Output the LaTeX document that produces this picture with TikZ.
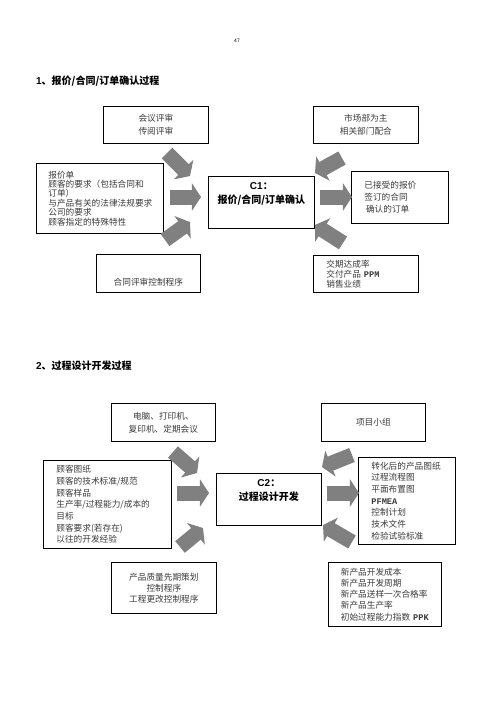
\documentclass[tikz,border=0pt]{standalone}
\usepackage{fontspec}
\setmainfont{Noto Sans CJK SC}
\newfontfamily\latin{Liberation Sans}
\newfontfamily\mono{Liberation Mono}
\usetikzlibrary{arrows.meta}
\definecolor{blkgray}{HTML}{808080}
\definecolor{txtgray}{HTML}{3A3A3A}

\begin{document}
\begin{tikzpicture}[
    x=1.2pt, y=-1.2pt,
    box/.style={rectangle, draw=black, line width=0.9pt, anchor=north west, inner sep=0pt, align=center, text=txtgray, font=\fontsize{10.4}{14}\selectfont},
    lbox/.style={box, align=left},
    main/.style={box, text=black, text depth=22pt, font=\fontsize{12}{17}\selectfont\bfseries},
    blk/.style={line width=18pt, draw=blkgray, -{Triangle[width=33pt,length=11pt]}},
    head/.style={anchor=west, inner sep=0pt, font=\fontsize{12}{14}\selectfont\bfseries}
]
\useasboundingbox (0,0) rectangle (496,702);
\node[inner sep=0pt, text=gray!60, font=\fontsize{5}{6}\selectfont] (dot) at (36,42) {.};
\node[inner sep=0pt, font=\fontsize{6}{7}\selectfont] (page) at (237,41) {\latin 47};

\node[head] (title1) at (36,81) {{\latin 1}、报价/合同/订单确认过程};
\node[box, minimum width=126pt, minimum height=44.4pt, font=\fontsize{10.4}{15.6}\selectfont] (meet) at (103,106) {会议评审\\传阅评审};
\node[box, minimum width=126pt, minimum height=44.4pt, font=\fontsize{10.4}{15.6}\selectfont] (mkt) at (313,106) {市场部为主\\相关部门配合};
\node[lbox, minimum width=152.4pt, minimum height=84pt, inner xsep=14.4pt, text width=123.6pt, font=\fontsize{10.4}{11.3}\selectfont] (inp1) at (36,163) {报价单\\顾客的要求（包括合同和\\订单）\\与产品有关的法律法规要求\\公司的要求\\顾客指定的特殊特性};
\node[main, minimum width=127.2pt, minimum height=62.4pt] (c1) at (208,176) {{\latin C1}：\\报价/合同/订单确认};
\node[lbox, minimum width=116.4pt, minimum height=62.4pt, inner xsep=15.6pt, text width=85.2pt, font=\fontsize{10.4}{14.4}\selectfont] (out1) at (351,171) {已接受的报价\\签订的合同\\\hspace{2pt}确认的订单};
\node[box, minimum width=124.8pt, minimum height=45.6pt, text height=30pt] (proc1) at (96,254) {合同评审控制程序};
\node[lbox, minimum width=126pt, minimum height=44.4pt, inner xsep=15.6pt, text width=94.8pt, font=\fontsize{10.4}{12}\selectfont] (kpi1) at (313,255) {交期达成率\\交付产品 {\mono\bfseries PPM}\\销售业绩};

\node[head] (title2) at (36,366) {{\latin 2}、过程设计开发过程};
\node[box, minimum width=124.8pt, minimum height=45.6pt, font=\fontsize{10.4}{15.6}\selectfont] (equip) at (111,403) {电脑、打印机、\\复印机、定期会议};
\node[box, minimum width=124.8pt, minimum height=45.6pt] (team) at (321,403) {项目小组};
\node[lbox, minimum width=153.6pt, minimum height=105.6pt, inner xsep=15.6pt, text width=122.4pt] (inp2) at (43,460) {顾客图纸\\顾客的技术标准/规范\\顾客样品\\生产率/过程能力/成本的\\目标\\顾客要求(若存在)\\以往的开发经验};
\node[main, minimum width=126pt, minimum height=62.4pt] (c2) at (216,473) {{\latin C2}：\\过程设计开发};
\node[lbox, minimum width=116.4pt, minimum height=104.4pt, inner xsep=15.6pt, text width=85.2pt] (out2) at (358,457) {转化后的产品图纸\\过程流程图\\平面布置图\\{\mono\bfseries PFMEA}\\控制计划\\技术文件\\检验试验标准};
\node[box, minimum width=126pt, minimum height=61.2pt, font=\fontsize{10.4}{13.2}\selectfont] (proc2) at (111,562) {产品质量先期策划\\控制程序\\工程更改控制程序};
\node[lbox, minimum width=135.6pt, minimum height=76.8pt, inner xsep=15pt, text width=105.6pt, font=\fontsize{10.4}{13.4}\selectfont] (kpi2) at (328,562) {新产品开发成本\\新产品开发周期\\新产品送样一次合格率\\新产品生产率\\初始过程能力指数 {\mono\bfseries PPK}};

\coordinate (p1) at (167,153); \coordinate (q1) at (190,176);
\coordinate (p2) at (170,197); \coordinate (q2) at (201,197);
\coordinate (p3) at (165,240); \coordinate (q3) at (190,222);
\coordinate (p4) at (342,158); \coordinate (q4) at (315,173);
\coordinate (p5) at (320,197); \coordinate (q5) at (352,197);
\coordinate (p6) at (343,243); \coordinate (q6) at (315,225);
\coordinate (r1) at (173,452); \coordinate (s1) at (197,473);
\coordinate (r2) at (177,493); \coordinate (s2) at (209,493);
\coordinate (r3) at (180,547); \coordinate (s3) at (203,528);
\coordinate (r4) at (352,455); \coordinate (s4) at (322,467);
\coordinate (r5) at (327,493); \coordinate (s5) at (359,493);
\coordinate (r6) at (352,542); \coordinate (s6) at (323,525);

\draw[blk] (p1) -- (q1);
\draw[blk] (p2) -- (q2);
\draw[blk] (p3) -- (q3);
\draw[blk] (p4) -- (q4);
\draw[blk] (p5) -- (q5);
\draw[blk] (p6) -- (q6);
\draw[blk] (r1) -- (s1);
\draw[blk] (r2) -- (s2);
\draw[blk] (r3) -- (s3);
\draw[blk] (r4) -- (s4);
\draw[blk] (r5) -- (s5);
\draw[blk] (r6) -- (s6);
\end{tikzpicture}
\end{document}
